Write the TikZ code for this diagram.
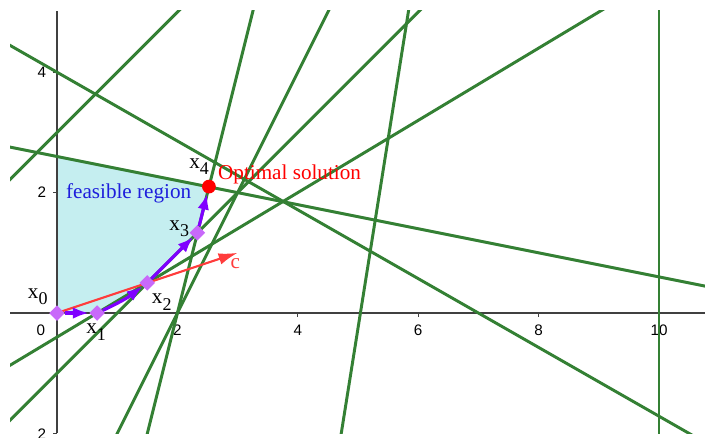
\documentclass[tikz,border=0pt]{standalone}
\usepackage{fontspec}
\setmainfont{Liberation Serif}
\newfontfamily\axisfont{Liberation Sans}
\usetikzlibrary{shapes.geometric,arrows.meta}

\definecolor{constr}{RGB}{52,128,52}
\definecolor{feas}{RGB}{197,238,240}
\definecolor{pathcol}{RGB}{127,0,255}
\definecolor{vert}{RGB}{200,105,250}
\definecolor{regcol}{RGB}{30,30,220}
\definecolor{cvec}{RGB}{255,60,60}

\newcommand{\xsub}[1]{x\raisebox{-3pt}{\fontsize{8.5}{9}\selectfont #1}}

\begin{document}
\begin{tikzpicture}[
  constraint/.style={draw=constr, line width=1.4pt},
  vertex/.style={diamond, fill=vert, inner sep=0pt, minimum size=7.5pt},
  optimum/.style={circle, fill=red, inner sep=0pt, minimum size=6.5pt},
  axis/.style={black!75, line width=0.6pt},
  ticklab/.style={font=\axisfont\fontsize{7.2}{8}\selectfont, text=black, inner sep=0pt},
  ptlabel/.style={font=\fontsize{10}{12}\selectfont, inner sep=0pt},
  move/.style={-{Latex[length=7.5pt,width=5.5pt]}, draw=pathcol, line width=1.5pt},
  objective/.style={-{Latex[length=9pt,width=5.5pt]}, draw=cvec, line width=1pt}
]
  \useasboundingbox (-0.947,-2.067) rectangle (10.764,5.2);

  % feasible region
  \fill[feas] (0,0) -- (2/3,0) -- (1.5,0.5) -- (7/3,4/3) -- (53/21,2.1) -- (0,2.6) -- cycle;

  % axes
  \draw[axis] (-0.78,0) -- (10.764,0);
  \draw[axis] (0,-2) -- (0,5.02);
  \foreach \t in {2,4,...,10} {
    \draw[axis] (\t,0) -- (\t,-0.06);
    \node[ticklab] (xt\t) at (\t,-0.28) {\t};
  }
  \foreach \t in {2,4} {
    \draw[axis] (0,\t) -- (-0.06,\t);
    \node[ticklab] (yt\t) at (-0.25,\t) {\t};
  }
  \draw[axis] (0,-2) -- (-0.06,-2);
  \node[ticklab, anchor=north] (ytm) at (-0.25,-1.92) {2};
  \node[ticklab] (orig) at (-0.27,-0.28) {0};

  % constraints
  \begin{scope}
    \clip (-0.78,-2) rectangle (10.764,5.02);
    \draw[constraint] (-1,32/7) -- (11,-16/7);
    \draw[constraint] (-1,2.8) -- (11,0.4);
    \draw[constraint] (1.4,-2.4) -- (3.4,5.6);
    \draw[constraint] (0.8,-2.4) -- (4.8,5.6);
    \draw[constraint] (4.65,-2.45) -- (5.9,5.4);
    \draw[constraint] (-1,-1) -- (11,6.2);
    \draw[constraint] (-1,-2) -- (7,6);
    \draw[constraint] (-1,2) -- (3,6);
    \draw[constraint] (10,-2.2) -- (10,5.2);
  \end{scope}

  % objective direction
  \coordinate (o) at (0,0);
  \coordinate (ctip) at (3,1);
  \draw[objective] (o) -- (ctip);

  % simplex path
  \node[vertex] (x0) at (0,0) {};
  \node[vertex] (x1) at (2/3,0) {};
  \node[vertex] (x2) at (1.5,0.5) {};
  \node[vertex] (x3) at (7/3,4/3) {};
  \node[optimum] (x4) at (53/21,2.1) {};

  \draw[move] (x0) -- (x1);
  \draw[move] (x1) to[bend right=6] (x2);
  \draw[move] (x2) -- (x3);
  \draw[move] (x3) -- (x4);

  % labels
  \node[ptlabel] (l0) at (-0.32,0.27) {\xsub{0}};
  \node[ptlabel] (l1) at (0.65,-0.32) {\xsub{1}};
  \node[ptlabel] (l2) at (1.74,0.18) {\xsub{2}};
  \node[ptlabel] (l3) at (2.03,1.40) {\xsub{3}};
  \node[ptlabel] (l4) at (2.36,2.43) {\xsub{4}};
  \node[ptlabel, text=red, anchor=west] (opt) at (2.67,2.31) {Optimal solution};
  \node[ptlabel, text=regcol] (reg) at (1.19,1.98) {feasible region};
  \node[ptlabel, text=cvec] (cl) at (2.96,0.82) {c};
\end{tikzpicture}
\end{document}
